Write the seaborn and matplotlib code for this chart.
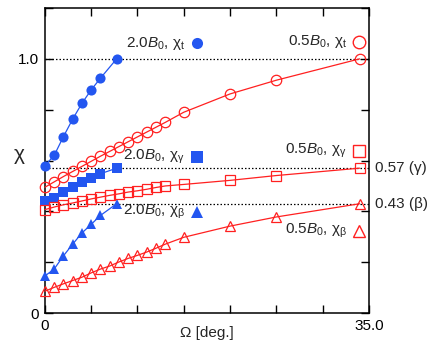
import matplotlib
matplotlib.use("Agg")
import matplotlib.pyplot as plt
import seaborn as sns

# dados
omega_2b = [0, 1, 2, 3, 4, 5, 6, 7.75]
chi_t_2b = [0.58, 0.62, 0.694, 0.763, 0.825, 0.878, 0.924, 1.0]
chi_g_2b = [0.439, 0.454, 0.476, 0.495, 0.515, 0.532, 0.548, 0.57]
chi_b_2b = [0.146, 0.173, 0.225, 0.271, 0.315, 0.349, 0.384, 0.43]

omega_05b = [0, 1, 2, 3, 4, 5, 6, 7, 8, 9, 10, 11, 12, 13, 15, 20, 25, 34]
chi_t_05b = [0.495, 0.516, 0.537, 0.557, 0.577, 0.597, 0.617, 0.636, 0.655,
             0.674, 0.693, 0.712, 0.731, 0.750, 0.790, 0.862, 0.916, 1.0]
chi_g_05b = [0.407, 0.417, 0.426, 0.433, 0.441, 0.449, 0.456, 0.463, 0.469,
             0.476, 0.481, 0.487, 0.494, 0.500, 0.506, 0.522, 0.541, 0.57]
chi_b_05b = [0.086, 0.101, 0.115, 0.128, 0.141, 0.158, 0.173, 0.185, 0.201,
             0.215, 0.227, 0.240, 0.255, 0.271, 0.298, 0.342, 0.378, 0.43]

ref_levels = [1.0, 0.57, 0.43]
ref_labels = ["0.57 (γ)", "0.43 (β)"]

sns.set_style("ticks")
plt.rcParams["font.family"] = ["Liberation Sans", "DejaVu Sans"]
plt.rcParams["mathtext.fontset"] = "custom"
plt.rcParams["mathtext.rm"] = "Liberation Sans"
plt.rcParams["mathtext.it"] = "Liberation Sans:italic"

blue = "#2356f0"
red = "#ff2020"

fig = plt.figure(figsize=(4.36, 3.49), dpi=100)
ax = fig.add_axes([0.103, 0.103, 0.743, 0.874])

# linhas de referência pontilhadas
for lv in ref_levels:
    ax.axhline(lv, color="black", lw=0.9, ls=(0, (1.2, 1.6)), zorder=1)

# série 2.0 B0 (cheia, azul)
sns.lineplot(x=omega_2b, y=chi_t_2b, ax=ax, color=blue, lw=0.9, marker="o",
             markersize=7.3, markeredgewidth=0, clip_on=False, zorder=3)
sns.lineplot(x=omega_2b, y=chi_g_2b, ax=ax, color=blue, lw=0.9, marker="s",
             markersize=6.7, markeredgewidth=0, clip_on=False, zorder=3)
sns.lineplot(x=omega_2b, y=chi_b_2b, ax=ax, color=blue, lw=0.9, marker="^",
             markersize=7.3, markeredgewidth=0, clip_on=False, zorder=3)

# série 0.5 B0 (vazada, vermelha)
for yy, mk, ms in [(chi_t_05b, "o", 7.5), (chi_g_05b, "s", 7), (chi_b_05b, "^", 7.5)]:
    sns.lineplot(x=omega_05b, y=yy, ax=ax, color=red, lw=0.9, marker=mk,
                 markersize=ms, markerfacecolor="none", markeredgecolor=red,
                 markeredgewidth=0.9, clip_on=False, zorder=3)

ax.set_xlim(0, 35)
ax.set_ylim(0, 1.2)
ax.set_xticks([0, 5, 10, 15, 20, 25, 30, 35])
ax.set_xticklabels(["0", "", "", "", "", "", "", "35.0"])
ax.set_yticks([0, 0.2, 0.4, 0.6, 0.8, 1.0, 1.2])
ax.set_yticklabels(["0", "", "", "", "", "1.0", ""])
ax.tick_params(direction="in", top=True, right=True, length=6, width=1,
               labelsize=11, pad=4, color="black", labelcolor="black")
for s in ax.spines.values():
    s.set_linewidth(1.1)
    s.set_color("black")

ax.set_xlabel("Ω [deg.]", fontsize=11, labelpad=-5)
ax.set_ylabel("χ", fontsize=15, rotation=0, labelpad=10)
ax.yaxis.set_label_coords(-0.08, 0.49)

# rótulos das séries com marcador
labels = [
    ("2.0$B_0$, χ${}_\\mathrm{t}$", 0.432, 0.885, 0.469, "o", blue, True),
    ("2.0$B_0$, χ${}_\\mathrm{γ}$", 0.432, 0.511, 0.469, "s", blue, True),
    ("2.0$B_0$, χ${}_\\mathrm{β}$", 0.432, 0.331, 0.469, "^", blue, True),
    ("0.5$B_0$, χ${}_\\mathrm{t}$", 0.932, 0.889, 0.969, "o", red, False),
    ("0.5$B_0$, χ${}_\\mathrm{γ}$", 0.932, 0.532, 0.969, "s", red, False),
    ("0.5$B_0$, χ${}_\\mathrm{β}$", 0.932, 0.270, 0.969, "^", red, False),
]
for txt, tx, ty, mx, mk, c, filled in labels:
    ax.text(tx, ty, txt, transform=ax.transAxes, ha="right", va="center",
            fontsize=11)
    if filled:
        ax.plot([mx], [ty], marker=mk, color=c, markersize=8,
                markeredgewidth=0, transform=ax.transAxes, clip_on=False)
    else:
        ax.plot([mx], [ty], marker=mk, markerfacecolor="none",
                markeredgecolor=c, markersize=9, markeredgewidth=1,
                transform=ax.transAxes, clip_on=False)

for lv, lab in zip(ref_levels[1:], ref_labels):
    ax.text(1.02, lv, lab, transform=ax.get_yaxis_transform(), ha="left",
            va="center", fontsize=11)

fig.savefig("out.png", dpi=100)
